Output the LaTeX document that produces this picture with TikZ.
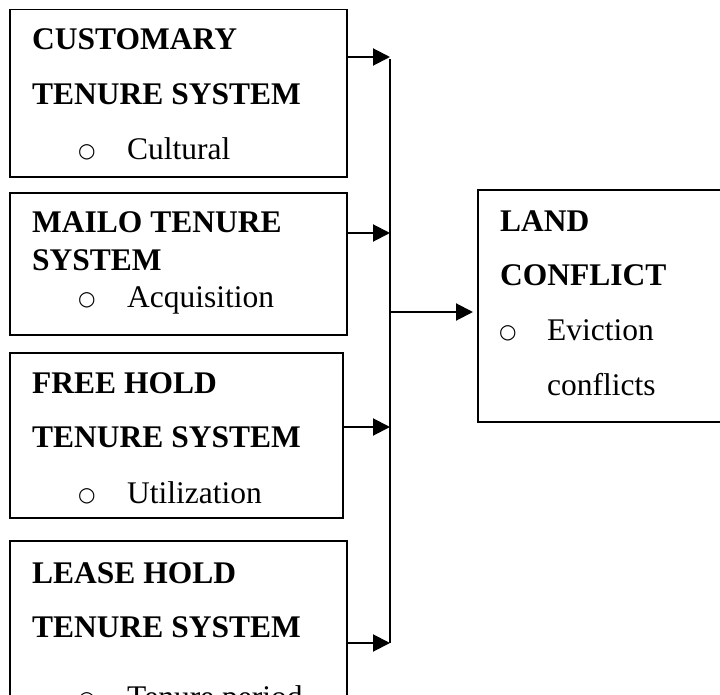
\documentclass[tikz,border=0pt]{standalone}
\usepackage{fontspec}
\setmainfont{Liberation Serif}
\newfontfamily\bulletfont{DejaVu Sans}
\usetikzlibrary{arrows.meta}
\tikzset{
  boxnode/.style={draw=black, line width=1.3pt, rectangle, inner sep=0pt, outer sep=0pt, anchor=north west},
  headtxt/.style={anchor=base west, inner sep=0pt, font=\fontsize{31.5}{36}\selectfont\bfseries},
  bodytxt/.style={anchor=base west, inner sep=0pt, font=\fontsize{31.5}{36}\selectfont},
  bullettxt/.style={anchor=base west, inner sep=0pt, font=\fontsize{20}{24}\selectfont\bulletfont},
  feed/.style={line width=2pt, -{Triangle[length=17pt,width=17pt]}},
  bus/.style={line width=1.3pt}
}
\begin{document}
\begin{tikzpicture}[x=1pt,y=-1pt]
\useasboundingbox (0,0) rectangle (720,695);
\clip (0,0) rectangle (720,695);
% boxes
\node[boxnode, minimum width=337pt, minimum height=167.5pt] (b1) at (10,9.5) {};
\node[boxnode, minimum width=337pt, minimum height=142pt] (b2) at (10,193) {};
\node[boxnode, minimum width=333pt, minimum height=165pt] (b3) at (10,353) {};
\node[boxnode, minimum width=337pt, minimum height=180pt] (b4) at (10,541) {};
\node[boxnode, minimum width=260pt, minimum height=232pt] (rb) at (478,190) {};
% box 1 text
\node[headtxt] (t1a) at (32,50) {CUSTOMARY};
\node[headtxt] (t1b) at (32,105) {TENURE SYSTEM};
\node[bullettxt] (o1) at (78,158) {○};
\node[bodytxt] (t1c) at (127,160) {Cultural};
% box 2 text
\node[headtxt] (t2a) at (32,233) {MAILO TENURE};
\node[headtxt] (t2b) at (32,270) {SYSTEM};
\node[bullettxt] (o2) at (78,305) {○};
\node[bodytxt] (t2c) at (127,307) {Acquisition};
% box 3 text
\node[headtxt] (t3a) at (32,393) {FREE HOLD};
\node[headtxt] (t3b) at (32,447) {TENURE SYSTEM};
\node[bullettxt] (o3) at (78,501) {○};
\node[bodytxt] (t3c) at (127,503) {Utilization};
% box 4 text
\node[headtxt] (t4a) at (32,583) {LEASE HOLD};
\node[headtxt] (t4b) at (32,637) {TENURE SYSTEM};
\node[bullettxt] (o4) at (78,705) {○};
\node[bodytxt] (t4c) at (127,707) {Tenure period};
% right box text
\node[headtxt] (r1) at (500,231) {LAND};
\node[headtxt] (r2) at (500,285) {CONFLICT};
\node[bullettxt] (o5) at (499,338) {○};
\node[bodytxt] (r3) at (547,340) {Eviction};
\node[bodytxt] (r4) at (547,395) {conflicts};
% bus coordinates
\coordinate (j1) at (390,57);
\coordinate (j2) at (390,233);
\coordinate (j3) at (390,427);
\coordinate (j4) at (390,643);
\coordinate (jm) at (391,312);
\coordinate (jt) at (390,59);
\coordinate (rin) at (473,312);
% connectors
\draw[bus] (jt) -- (j4);
\draw[feed] (b1.east |- j1) -- (j1);
\draw[feed] (b2.east |- j2) -- (j2);
\draw[feed] (b3.east |- j3) -- (j3);
\draw[feed] (b4.east |- j4) -- (j4);
\draw[feed] (jm) -- (rin);
\end{tikzpicture}
\end{document}
